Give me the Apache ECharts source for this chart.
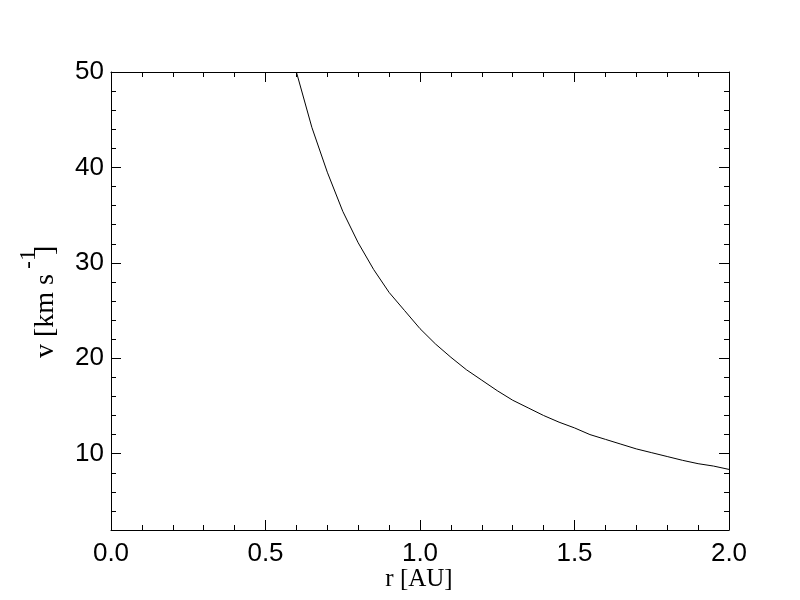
<!DOCTYPE html>
<html>
<head>
<meta charset="utf-8">
<script src="https://cdn.jsdelivr.net/npm/echarts@6/dist/echarts.min.js"></script>
<style>html,body{margin:0;padding:0;background:#fff}#c{width:800px;height:600px}</style>
</head>
<body>
<div id="c"></div>
<script>
// Data
var rValues = [0.60,0.65,0.70,0.75,0.80,0.85,0.90,0.95,1.00,1.05,1.10,1.15,1.20,1.25,1.30,1.35,1.40,1.45,1.50,1.55,1.60,1.65,1.70,1.75,1.80,1.85,1.90,1.95,2.00];
var vValues = [50.0,44.2,39.5,35.4,32.1,29.3,26.9,25.0,23.1,21.5,20.1,18.8,17.7,16.6,15.6,14.8,14.0,13.3,12.7,12.0,11.5,11.0,10.5,10.1,9.7,9.3,8.95,8.7,8.35];
var xMajorTicks = [0, 0.5, 1.0, 1.5, 2.0];
var yMajorTicks = [10, 20, 30, 40, 50];
var yMinorTicks = [2,4,6,8,10,12,14,16,18,20,22,24,26,28,30,32,34,36,38,40,42,44,46,48,50];
var xMinorTicks = [0,0.1,0.2,0.3,0.4,0.5,0.6,0.7,0.8,0.9,1.0,1.1,1.2,1.3,1.4,1.5,1.6,1.7,1.8,1.9,2.0];
var xTitle = 'r [AU]';
var yTitleMain = 'v [km s';
var yTitleSup = '-1';
var yTitleEnd = ']';

var chart = echarts.init(document.getElementById('c'), null, {renderer: 'canvas'});
var data = rValues.map(function (r, i) { return [r, vValues[i]]; });
var lbl = {fontFamily: 'Liberation Sans', fontSize: 26, color: '#000'};
var titleFont = 'Liberation Serif';

function xAx(pos, major, labels) {
  return {
    type: 'value', position: pos, min: 0, max: 2,
    axisLine: {show: major, onZero: false, lineStyle: {color: '#000', width: 1}},
    axisTick: {show: true, inside: true, length: major ? 10 : 5, customValues: major ? xMajorTicks : xMinorTicks, lineStyle: {color: '#000', width: 1}},
    axisLabel: labels ? Object.assign({show: true, margin: 11, customValues: xMajorTicks, formatter: function (v) { return v.toFixed(1); }}, lbl) : {show: false},
    splitLine: {show: false}
  };
}
function yAx(pos, major, labels) {
  return {
    type: 'value', position: pos, min: 2, max: 50,
    axisLine: {show: major, onZero: false, lineStyle: {color: '#000', width: 1}},
    axisTick: {show: true, inside: true, length: major ? 10 : 5, customValues: major ? yMajorTicks : yMinorTicks, lineStyle: {color: '#000', width: 1}},
    axisLabel: labels ? Object.assign({show: true, margin: 7, customValues: yMajorTicks, formatter: function (v) { return String(v); }}, lbl) : {show: false},
    splitLine: {show: false}
  };
}

chart.setOption({
  animation: false,
  backgroundColor: '#fff',
  grid: {left: 111, right: 71, top: 72, bottom: 70, containLabel: false},
  xAxis: [xAx('bottom', true, true), xAx('bottom', false, false), xAx('top', true, false), xAx('top', false, false)],
  yAxis: [yAx('left', true, true), yAx('left', false, false), yAx('right', true, false), yAx('right', false, false)],
  series: [{
    type: 'line', xAxisIndex: 0, yAxisIndex: 0, data: data,
    showSymbol: false, symbol: 'none', smooth: false,
    lineStyle: {color: '#000', width: 1}, clip: true
  }],
  graphic: [
    {type: 'text', x: 419, y: 579, style: {text: xTitle, font: '25px "' + titleFont + '"', fill: '#000', textAlign: 'center', textVerticalAlign: 'middle'}},
    {type: 'text', x: 46, y: 358, rotation: Math.PI / 2, style: {text: yTitleMain, font: '28px "' + titleFont + '"', fill: '#000', textAlign: 'left', textVerticalAlign: 'middle'}},
    {type: 'text', x: 29, y: 269, rotation: Math.PI / 2, style: {text: yTitleSup, font: '24px "' + titleFont + '"', fill: '#000', textAlign: 'left', textVerticalAlign: 'middle'}},
    {type: 'text', x: 46, y: 255, rotation: Math.PI / 2, style: {text: yTitleEnd, font: '28px "' + titleFont + '"', fill: '#000', textAlign: 'left', textVerticalAlign: 'middle'}}
  ]
});
</script>
</body>
</html>
